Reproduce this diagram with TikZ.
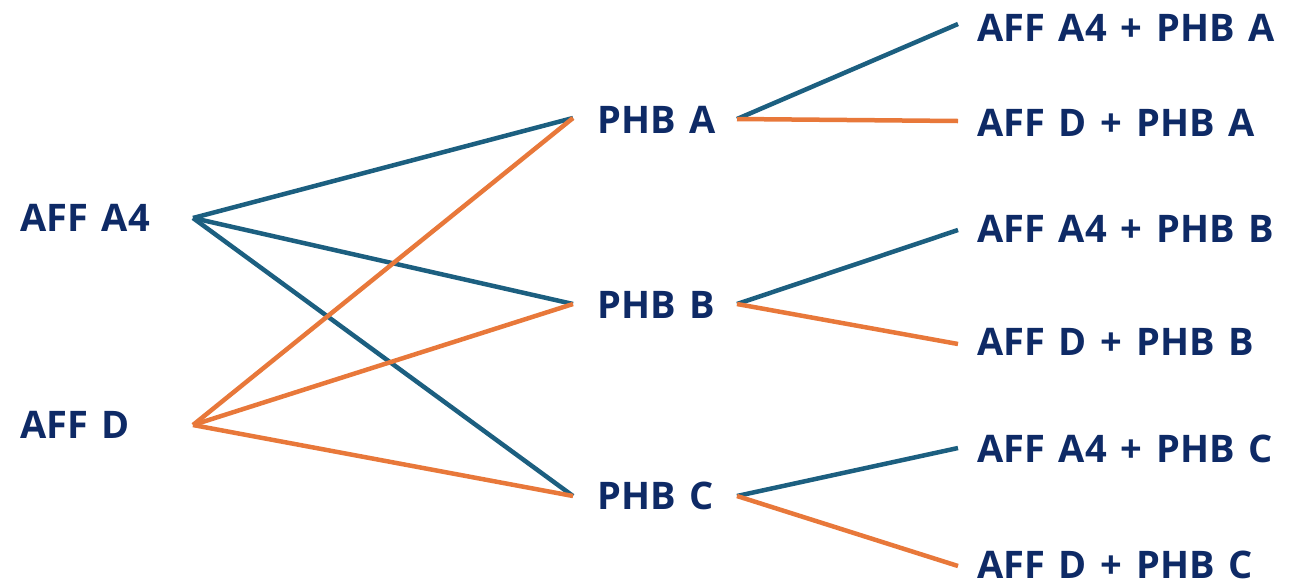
\documentclass[tikz,border=0pt]{standalone}
\usepackage{fontspec}
\setmainfont[WordSpace=1.4]{Open Sans}
\begin{document}
\begin{tikzpicture}[x=1pt,y=-1pt,
  lbl/.style={anchor=west,inner sep=0pt,text=navy,font=\fontsize{38}{40}\selectfont\bfseries},
  bl/.style={draw=teal1,line width=4.5pt},
  orl/.style={draw=orange1,line width=4.5pt}]
\definecolor{navy}{HTML}{0E2A66}
\definecolor{teal1}{HTML}{1C5F80}
\definecolor{orange1}{HTML}{E8783A}
\useasboundingbox (0,0) rectangle (1292,587);
% left
\node[lbl] (a4) at (20,218) {AFF A4};
\node[lbl] (d) at (20,425) {AFF D};
\coordinate (a4o) at (193,218);
\coordinate (do) at (193,425);
% middle
\node[lbl] (pa) at (597,120) {PHB A};
\node[lbl] (pb) at (597,305) {PHB B};
\node[lbl] (pc) at (597,496) {PHB C};
\coordinate (pai) at (573,118);
\coordinate (pbi) at (573,304);
\coordinate (pci) at (573,496);
\coordinate (pao) at (737,119);
\coordinate (pbo) at (737,304);
\coordinate (pco) at (737,496);
% right
\node[lbl] (r1) at (977,28) {AFF A4 + PHB A};
\node[lbl] (r2) at (977,123) {AFF D + PHB A};
\node[lbl] (r3) at (977,229) {AFF A4 + PHB B};
\node[lbl] (r4) at (977,342) {AFF D + PHB B};
\node[lbl] (r5) at (977,449) {AFF A4 + PHB C};
\node[lbl] (r6) at (977,565) {AFF D + PHB C};
\coordinate (r1i) at (958,24);
\coordinate (r2i) at (958,121);
\coordinate (r3i) at (958,230);
\coordinate (r4i) at (958,344);
\coordinate (r5i) at (958,448);
\coordinate (r6i) at (958,566);
% connectors
\draw[bl] (a4o) -- (pai);
\draw[bl] (a4o) -- (pbi);
\draw[bl] (a4o) -- (pci);
\draw[orl] (do) -- (pai);
\draw[orl] (do) -- (pbi);
\draw[orl] (do) -- (pci);
\draw[bl] (pao) -- (r1i);
\draw[orl] (pao) -- (r2i);
\draw[bl] (pbo) -- (r3i);
\draw[orl] (pbo) -- (r4i);
\draw[bl] (pco) -- (r5i);
\draw[orl] (pco) -- (r6i);
\end{tikzpicture}
\end{document}
